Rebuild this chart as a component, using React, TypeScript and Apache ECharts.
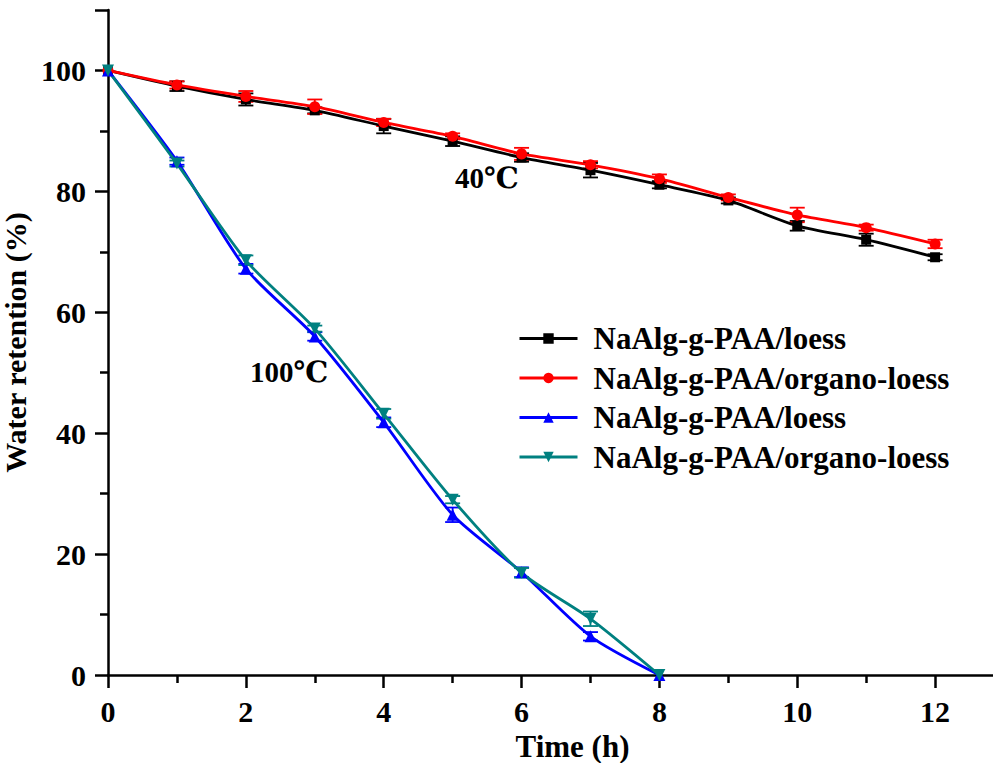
import React, { useEffect, useRef } from "react";
import * as echarts from "echarts";

const hours40 = [0, 1, 2, 3, 4, 5, 6, 7, 8, 9, 10, 11, 12];
const hours100 = [0, 1, 2, 3, 4, 5, 6, 7, 8];

const loess40 = [100, 97.4, 95.2, 93.4, 90.8, 88.3, 85.6, 83.5, 81.1, 78.5, 74.3, 72.0, 69.1];
const loess40Err = [0, 0.8, 1.0, 0.5, 1.2, 0.8, 0.7, 1.2, 0.6, 0.5, 0.8, 1.0, 0.5];
const organo40 = [100, 97.6, 95.7, 94.0, 91.4, 89.1, 86.2, 84.4, 82.1, 79.0, 76.1, 74.0, 71.3];
const organo40Err = [0, 0.6, 0.9, 1.2, 0.6, 0.5, 1.0, 0.6, 0.7, 0.5, 1.2, 0.5, 0.7];
const loess100 = [100, 85.0, 67.2, 56.0, 41.8, 26.5, 17.0, 6.4, 0];
const loess100Err = [0, 0.6, 0.8, 0.7, 0.8, 1.2, 0.8, 0.7, 0];
const organo100 = [100, 84.6, 68.6, 57.3, 43.2, 29.0, 16.9, 9.3, 0];
const organo100Err = [0, 0.5, 0.8, 0.5, 0.8, 0.6, 0.8, 1.2, 0];

const xMajorTicks = [0, 2, 4, 6, 8, 10, 12];
const xMinorTicks = [1, 3, 5, 7, 9, 11];
const yMajorTicks = [0, 20, 40, 60, 80, 100];
const yMinorTicks = [10, 30, 50, 70, 90];

const FONT = '"Liberation Serif", "Times New Roman", "DejaVu Serif", serif';

export default function App() {
  const ref = useRef<HTMLDivElement>(null);
  useEffect(() => {
    if (!ref.current) return;
    const chart = echarts.init(ref.current, undefined, { renderer: "svg" });

    const pairs = (xs: number[], ys: number[]) => xs.map((x, i) => [x, ys[i]]);
    const errData = (xs: number[], ys: number[], es: number[]) => xs.map((x, i) => [x, ys[i], es[i]]);

    const errSeries = (name: string, xs: number[], ys: number[], es: number[], color: string) => ({
      type: "custom",
      name,
      xAxisIndex: 0,
      yAxisIndex: 0,
      data: errData(xs, ys, es),
      z: 3,
      silent: true,
      renderItem: (params: any, api: any) => {
        const x = api.value(0);
        const y = api.value(1);
        const e = api.value(2);
        if (!e) return { type: "group", children: [] };
        const top = api.coord([x, y + e]);
        const bot = api.coord([x, y - e]);
        const hw = 7.5;
        const style = { stroke: color, lineWidth: 1.8 };
        return {
          type: "group",
          children: [
            { type: "line", shape: { x1: top[0], y1: top[1], x2: bot[0], y2: bot[1] }, style },
            { type: "line", shape: { x1: top[0] - hw, y1: top[1], x2: top[0] + hw, y2: top[1] }, style },
            { type: "line", shape: { x1: bot[0] - hw, y1: bot[1], x2: bot[0] + hw, y2: bot[1] }, style },
          ],
        };
      },
    });

    const lineSeries = (name: string, xs: number[], ys: number[], color: string, symbol: string, size: number, rotate = 0) => ({
      type: "line",
      name,
      xAxisIndex: 0,
      yAxisIndex: 0,
      data: pairs(xs, ys),
      smooth: 0.25,
      symbol,
      symbolSize: size,
      symbolRotate: rotate,
      showAllSymbol: true,
      z: 4,
      lineStyle: { color, width: 2.8 },
      itemStyle: { color },
    });

    const axisLine = { show: true, onZero: false, lineStyle: { color: "#000", width: 2.5 } };
    const labelStyle = { color: "#000", fontFamily: FONT, fontWeight: "bold", fontSize: 30 };

    chart.setOption({
      animation: false,
      backgroundColor: "#fff",
      grid: { left: 108, right: 0, top: 10, bottom: 88, containLabel: false, outerBoundsMode: "none" },
      xAxis: [
        {
          type: "value",
          position: "bottom",
          min: 0,
          max: 12.84,
          axisLine,
          axisTick: { show: true, customValues: xMajorTicks, length: 13, lineStyle: { color: "#000", width: 2.5 } },
          axisLabel: { ...labelStyle, customValues: xMajorTicks, margin: 21 },
          splitLine: { show: false },
          name: "Time (h)",
          nameLocation: "middle",
          nameGap: 51,
          nameTextStyle: { ...labelStyle, fontSize: 31, padding: [0, 0, 0, 44] },
        },
        {
          type: "value",
          position: "bottom",
          min: 0,
          max: 12.84,
          axisLine: { show: false },
          axisTick: { show: true, customValues: xMinorTicks, length: 8, lineStyle: { color: "#000", width: 2.5 } },
          axisLabel: { show: false },
          splitLine: { show: false },
        },
      ],
      yAxis: [
        {
          type: "value",
          position: "left",
          min: 0,
          max: 110,
          axisLine,
          axisTick: { show: true, customValues: [...yMajorTicks, 110], length: 13, lineStyle: { color: "#000", width: 2.5 } },
          axisLabel: { ...labelStyle, customValues: yMajorTicks, margin: 22 },
          splitLine: { show: false },
          name: "Water retention (%)",
          nameLocation: "middle",
          nameGap: 55,
          nameTextStyle: { ...labelStyle, fontSize: 30 },
        },
        {
          type: "value",
          position: "left",
          min: 0,
          max: 110,
          axisLine: { show: false },
          axisTick: { show: true, customValues: yMinorTicks, length: 8, lineStyle: { color: "#000", width: 2.5 } },
          axisLabel: { show: false },
          splitLine: { show: false },
        },
      ],
      legend: {
        orient: "vertical",
        left: 513,
        top: 318,
        itemWidth: 58,
        itemHeight: 13,
        itemGap: 8.5,
        data: ["NaAlg-g-PAA/loess", "NaAlg-g-PAA/organo-loess", "NaAlg-g-PAA/loess ", "NaAlg-g-PAA/organo-loess "],
        formatter: (n: string) => n.trim(),
        itemStyle: { borderWidth: 0 },
        lineStyle: { width: 3 },
        textStyle: { ...labelStyle, fontSize: 31, lineHeight: 30, padding: [0, 0, 0, 11] },
      },
      graphic: [
        { type: "text", x: 455, y: 178, style: { text: "40℃", font: `bold 29px ${FONT}`, fill: "#000", verticalAlign: "middle" } },
        { type: "text", x: 250, y: 372, style: { text: "100℃", font: `bold 29px ${FONT}`, fill: "#000", verticalAlign: "middle" } },
      ],
      series: [
        errSeries("e1", hours40, loess40, loess40Err, "#000000"),
        errSeries("e2", hours40, organo40, organo40Err, "#ff0000"),
        errSeries("e3", hours100, loess100, loess100Err, "#0000ff"),
        errSeries("e4", hours100, organo100, organo100Err, "#008080"),
        lineSeries("NaAlg-g-PAA/loess", hours40, loess40, "#000000", "rect", 10),
        lineSeries("NaAlg-g-PAA/organo-loess", hours40, organo40, "#ff0000", "circle", 11),
        lineSeries("NaAlg-g-PAA/loess ", hours100, loess100, "#0000ff", "triangle", 12),
        lineSeries("NaAlg-g-PAA/organo-loess ", hours100, organo100, "#008080", "triangle", 12, 180),
      ],
    });
    return () => chart.dispose();
  }, []);
  return <div ref={ref} style={{ position: "fixed", left: 0, top: 0, width: 993, height: 763 }} />;
}
